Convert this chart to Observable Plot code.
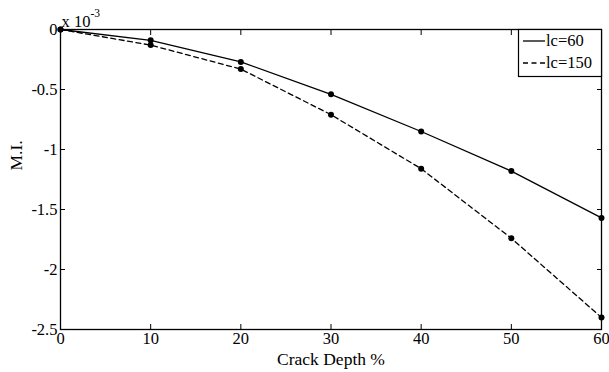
<!DOCTYPE html>
<html>
<head>
<meta charset="utf-8">
<script src="https://cdn.jsdelivr.net/npm/d3@7"></script>
<script src="https://cdn.jsdelivr.net/npm/@observablehq/plot@0.6"></script>
<style>
  html, body { margin: 0; padding: 0; background: #fff; }
  #chart svg { display: block; }
  #chart svg text { font-family: "Liberation Serif", "Times New Roman", Times, "DejaVu Serif", serif !important; }
</style>
</head>
<body>
<div id="chart"></div>
<script>
// ---- data ----
const crackDepth = [0, 10, 20, 30, 40, 50, 60];
const miLc60  = [0, -0.09, -0.27, -0.54, -0.85, -1.18, -1.57];
const miLc150 = [0, -0.13, -0.33, -0.71, -1.16, -1.74, -2.40];
const seriesNames = ["lc=60", "lc=150"];
const xTicks = [0, 10, 20, 30, 40, 50, 60];
const yTicks = [0, -0.5, -1, -1.5, -2, -2.5];
const xLabel = "Crack Depth %";
const yLabel = "M.I.";
const exponentBase = "x 10";
const exponentPower = "-3";

const FONT = "'Liberation Serif', 'Times New Roman', Times, 'DejaVu Serif', serif";

const rows60 = crackDepth.map((d, i) => ({depth: d, mi: miLc60[i], series: seriesNames[0]}));
const rows150 = crackDepth.map((d, i) => ({depth: d, mi: miLc150[i], series: seriesNames[1]}));

const fmt = d => String(d);

const chart = Plot.plot({
  width: 609,
  height: 372,
  marginLeft: 60,
  marginRight: 8,
  marginTop: 29,
  marginBottom: 43,
  style: {fontFamily: FONT, fontSize: "16px", background: "#fff", color: "#000"},
  x: {domain: [0, 60]},
  y: {domain: [-2.5, 0]},
  marks: [
    // tick labels
    Plot.axisX(xTicks, {anchor: "bottom", tickSize: 0, tickPadding: 3, tickFormat: fmt, label: null, fontSize: 16.5, fontFamily: FONT, fill: "#000"}),
    Plot.axisY(yTicks, {anchor: "left", tickSize: 0, tickPadding: 3, tickFormat: fmt, label: null, fontSize: 16.5, fontFamily: FONT, fill: "#000"}),
    // inward tick marks on all four sides
    Plot.axisX(xTicks, {anchor: "bottom", tickSize: -5, text: null, label: null, stroke: "#000"}),
    Plot.axisX(xTicks, {anchor: "top", tickSize: -5, text: null, label: null, stroke: "#000"}),
    Plot.axisY(yTicks, {anchor: "left", tickSize: -5, text: null, label: null, stroke: "#000"}),
    Plot.axisY(yTicks, {anchor: "right", tickSize: -5, text: null, label: null, stroke: "#000"}),
    // data
    Plot.line(rows60, {x: "depth", y: "mi", stroke: "#000", strokeWidth: 1.3}),
    Plot.line(rows150, {x: "depth", y: "mi", stroke: "#000", strokeWidth: 1.3, strokeDasharray: "5,3.5"}),
    Plot.dot(rows60.concat(rows150), {x: "depth", y: "mi", r: 3, fill: "#000", stroke: "none"}),
    Plot.frame({stroke: "#000", strokeWidth: 1.3}),
    // axis titles
    Plot.text([xLabel], {frameAnchor: "bottom", dy: 35, fontSize: 17.5, fontFamily: FONT, fill: "#000"}),
    Plot.text([yLabel], {frameAnchor: "left", dx: -44, dy: -9, rotate: -90, fontSize: 17.5, fontFamily: FONT, fill: "#000"}),
    // exponent
    Plot.text([exponentBase], {frameAnchor: "top-left", textAnchor: "start", lineAnchor: "bottom", dx: 1, dy: -3, fontSize: 16.5, fontFamily: FONT, fill: "#000"}),
    Plot.text([exponentPower], {frameAnchor: "top-left", textAnchor: "start", lineAnchor: "bottom", dx: 30, dy: -13, fontSize: 11.5, fontFamily: FONT, fill: "#000"})
  ]
});

document.getElementById("chart").appendChild(chart);

// legend box (top-right, inside the axes)
const svg = d3.select(chart);
const lg = svg.append("g")
  .attr("font-family", FONT)
  .attr("font-size", 16.5)
  .attr("text-anchor", "start");
lg.append("rect").attr("x", 518.5).attr("y", 29.5).attr("width", 83).attr("height", 47)
  .attr("fill", "#fff").attr("stroke", "#000").attr("stroke-width", 1.2);
const legendItems = [
  {name: seriesNames[0], dash: null, y: 41},
  {name: seriesNames[1], dash: "5,3.5", y: 63}
];
legendItems.forEach(it => {
  lg.append("line").attr("x1", 523).attr("x2", 545).attr("y1", it.y).attr("y2", it.y)
    .attr("stroke", "#000").attr("stroke-width", 1.3).attr("stroke-dasharray", it.dash);
  lg.append("text").attr("x", 546).attr("y", it.y).attr("dy", "0.32em")
    .attr("text-anchor", "start").attr("fill", "#000").text(it.name);
});
</script>
</body>
</html>
